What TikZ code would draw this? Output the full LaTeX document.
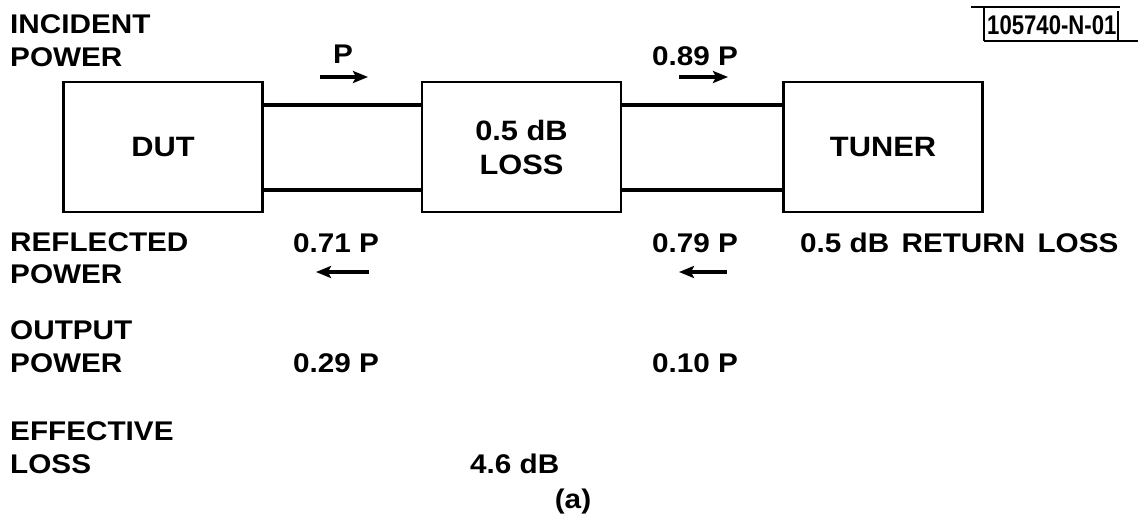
\documentclass[tikz,border=0pt]{standalone}
\usepackage{fontspec}
\setmainfont[FakeStretch=1.1]{Liberation Sans}
\newfontfamily\tagfont[FakeStretch=0.82]{Liberation Sans}
\usetikzlibrary{arrows.meta}
\begin{document}
\begin{tikzpicture}[x=1pt,y=-1pt,
  lbl/.style={anchor=base west,inner sep=0pt,font=\bfseries\fontsize{27}{30}\selectfont},
  val/.style={anchor=base west,inner sep=0pt,font=\bfseries\fontsize{27}{30}\selectfont},
  blk/.style={draw,line width=2.5pt,minimum width=199pt,minimum height=130pt,inner sep=0pt,font=\bfseries\fontsize{28}{34}\selectfont,align=center},
  wire/.style={line width=4pt},
  flow/.style={line width=3.5pt,-{Stealth[length=15pt,width=12pt,inset=3pt]}},
  tagline/.style={line width=2.5pt}]
\useasboundingbox (0,0) rectangle (1146,515);
% blocks
\node[blk] (dut) at (163,147) {DUT};
\node[blk] (loss) at (521.5,147) {0.5 dB\\LOSS};
\node[blk] (tuner) at (883,147) {TUNER};
% wires
\coordinate (ty) at (0,105);
\coordinate (by) at (0,190);
\draw[wire] (dut.east |- ty) -- (loss.west |- ty);
\draw[wire] (dut.east |- by) -- (loss.west |- by);
\draw[wire] (loss.east |- ty) -- (tuner.west |- ty);
\draw[wire] (loss.east |- by) -- (tuner.west |- by);
% left labels
\node[lbl] (inc1) at (10,33) {INCIDENT};
\node[lbl] (inc2) at (10,66) {POWER};
\node[lbl] (ref1) at (10,251) {REFLECTED};
\node[lbl] (ref2) at (10,283) {POWER};
\node[lbl] (out1) at (10,339) {OUTPUT};
\node[lbl] (out2) at (10,372) {POWER};
\node[lbl] (eff1) at (10,440) {EFFECTIVE};
\node[lbl] (eff2) at (10,473) {LOSS};
% values
\node[val] (p1) at (333,63) {P};
\node[val] (p2) at (652,65) {0.89 P};
\node[val] (r1) at (293,252) {0.71 P};
\node[val] (r2) at (652,252) {0.79 P};
\node[val] (rl) at (800,252) {0.5 dB\hspace{4pt} RETURN\hspace{4pt} LOSS};
\node[val] (o1) at (293,372) {0.29 P};
\node[val] (o2) at (652,372) {0.10 P};
\node[val] (el) at (470,473) {4.6 dB};
\node[anchor=base,inner sep=0pt,font=\bfseries\fontsize{27}{30}\selectfont] (cap) at (573,508) {(a)};
% flow arrows
\coordinate (a1s) at (320,77); \coordinate (a1e) at (368,77);
\coordinate (a2s) at (679,77); \coordinate (a2e) at (728,77);
\coordinate (a3s) at (369,272); \coordinate (a3e) at (316,272);
\coordinate (a4s) at (727,272); \coordinate (a4e) at (679,272);
\draw[flow] (a1s) -- (a1e);
\draw[flow] (a2s) -- (a2e);
\draw[flow] (a3s) -- (a3e);
\draw[flow] (a4s) -- (a4e);
% tag
\node[anchor=base west,inner sep=0pt,font=\tagfont\bfseries\fontsize{27}{28}\selectfont] (tag) at (987,34) {105740-N-01};
\draw[tagline] (971,7) -- (1120,7);
\draw[tagline] (984,7) -- (984,41);
\draw[tagline] (984,41) -- (1138,41);
\draw[tagline] (1118,11) -- (1118,41);
\end{tikzpicture}
\end{document}
